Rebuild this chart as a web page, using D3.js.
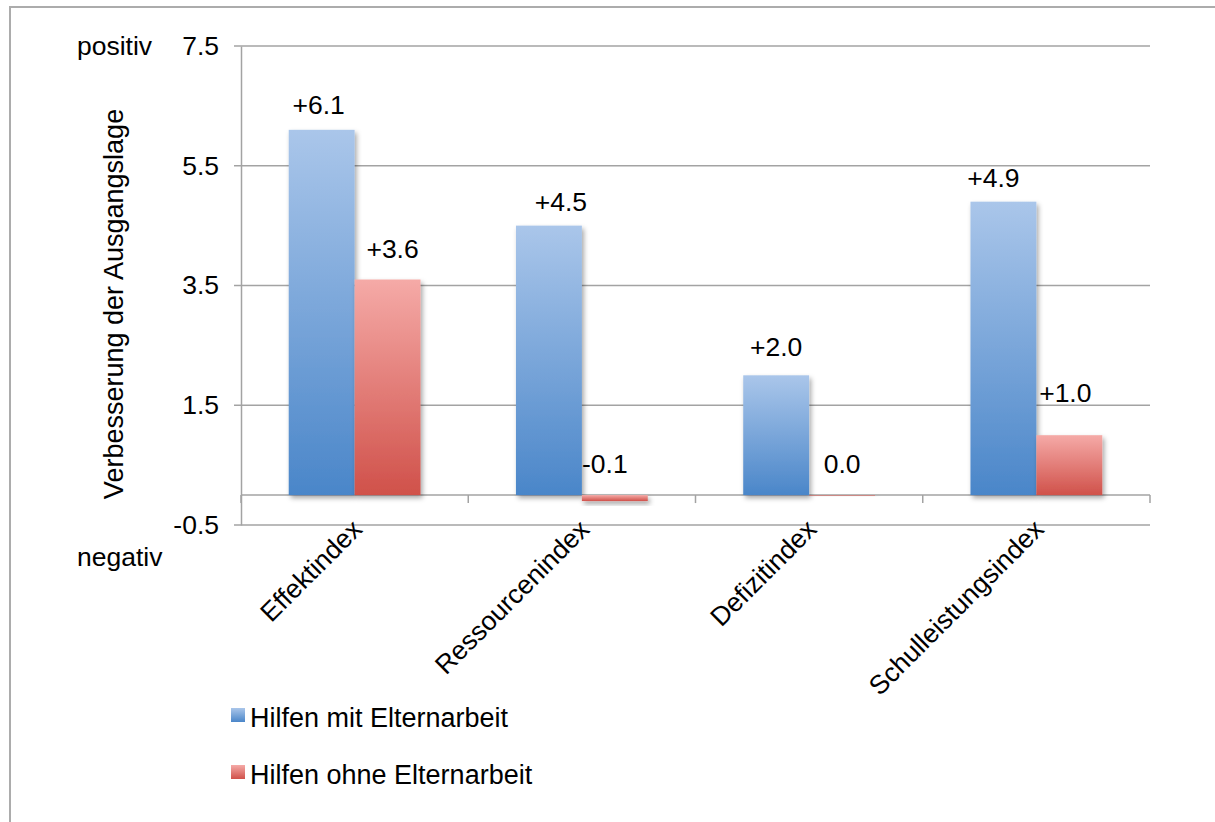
<!DOCTYPE html>
<html>
<head>
<meta charset="utf-8">
<script src="https://cdn.jsdelivr.net/npm/d3@7"></script>
<style>
  body { margin: 0; background: #fff; }
  svg text { font-family: "Liberation Sans", Arial, sans-serif; fill: #000; }
</style>
</head>
<body>
<div id="chart"></div>
<script>
'use strict';

// data
var categories = ["Effektindex", "Ressourcenindex", "Defizitindex", "Schulleistungsindex"];
var seriesNames = ["Hilfen mit Elternarbeit", "Hilfen ohne Elternarbeit"];
var mitEltern = [6.1, 4.5, 2.0, 4.9];
var ohneEltern = [3.6, -0.1, 0.0, 1.0];
var labelsMit = ["+6.1", "+4.5", "+2.0", "+4.9"];
var labelsOhne = ["+3.6", "-0.1", "0.0", "+1.0"];
var yTicks = [-0.5, 1.5, 3.5, 5.5, 7.5];

// hand placed data labels (pixel nudges), like the original sheet
var nudgeMit = [[-3, -16], [12, -15], [0, -19], [-10, -15]];
var nudgeOhne = [[5, -22], [-10, -22], [0, -22], [-4, -33]];

var W = 1215, H = 822;
var plotLeft = 241, plotRight = 1150, plotTop = 46, plotBottom = 525;
var fs = "26.5px";

var svg = d3.select("#chart").append("svg")
  .attr("width", W)
  .attr("height", H);

var defs = svg.append("defs");

function grad(id, c1, c2) {
  var g = defs.append("linearGradient")
    .attr("id", id)
    .attr("x1", 0).attr("y1", 0).attr("x2", 0).attr("y2", 1);
  g.append("stop").attr("offset", "0%").attr("stop-color", c1);
  g.append("stop").attr("offset", "100%").attr("stop-color", c2);
}
grad("gBlue", "#aac6ea", "#4a86c9");
grad("gRed", "#f5aaa7", "#d0514a");

var shadow = defs.append("filter")
  .attr("id", "shadow")
  .attr("x", "-20%").attr("y", "-20%")
  .attr("width", "150%").attr("height", "200%");
shadow.append("feDropShadow")
  .attr("dx", 2).attr("dy", 3)
  .attr("stdDeviation", 2.5)
  .attr("flood-color", "#000")
  .attr("flood-opacity", 0.35);

// outer frame
svg.append("rect")
  .attr("x", 10).attr("y", 7)
  .attr("width", 1300).attr("height", 900)
  .attr("fill", "none")
  .attr("stroke", "#acacac")
  .attr("stroke-width", 2);

var y = d3.scaleLinear().domain([-0.5, 7.5]).range([plotBottom, plotTop]);
var x = d3.scaleBand().domain(categories).range([plotLeft, plotRight]).padding(0);
var bw = x.bandwidth();
var xs = d3.scaleBand().domain(seriesNames)
  .range([bw * 0.21, bw * 0.79]).padding(0);

// gridlines
svg.append("g").selectAll("line")
  .data(yTicks)
  .enter().append("line")
  .attr("x1", plotLeft - 7).attr("x2", plotRight)
  .attr("y1", function(d) { return y(d); })
  .attr("y2", function(d) { return y(d); })
  .attr("stroke", "#a3a3a3")
  .attr("stroke-width", 1.5);

// y axis
var yAxis = d3.axisLeft(y)
  .tickValues(yTicks)
  .tickSize(0)
  .tickPadding(22)
  .tickFormat(function(d) { return d.toFixed(1); });

var gy = svg.append("g")
  .attr("transform", "translate(" + plotLeft + ",0)")
  .call(yAxis);
gy.select(".domain").attr("stroke", "#a3a3a3").attr("stroke-width", 1.5);
gy.selectAll("text")
  .style("font-size", fs)
  .style("font-family", "'Liberation Sans', Arial, sans-serif")
  .attr("fill", "#000");

// category axis at zero
svg.append("line")
  .attr("x1", plotLeft).attr("x2", plotRight)
  .attr("y1", y(0)).attr("y2", y(0))
  .attr("stroke", "#a3a3a3")
  .attr("stroke-width", 1.5);

var bounds = categories.map(function(c) { return x(c); }).concat([plotRight]);
svg.append("g").selectAll("line")
  .data(bounds)
  .enter().append("line")
  .attr("x1", function(d) { return d; })
  .attr("x2", function(d) { return d; })
  .attr("y1", y(0)).attr("y2", y(0) + 8)
  .attr("stroke", "#a3a3a3")
  .attr("stroke-width", 1.5);

// bars
var series = [
  { name: seriesNames[0], values: mitEltern, labels: labelsMit, nudge: nudgeMit, fill: "url(#gBlue)" },
  { name: seriesNames[1], values: ohneEltern, labels: labelsOhne, nudge: nudgeOhne, fill: "url(#gRed)" }
];

series.forEach(function(s) {
  svg.append("g").selectAll("rect")
    .data(s.values)
    .enter().append("rect")
    .attr("x", function(d, i) { return x(categories[i]) + xs(s.name); })
    .attr("width", xs.bandwidth())
    .attr("y", function(d) { return y(Math.max(d, 0)); })
    .attr("height", function(d) { return Math.max(Math.abs(y(d) - y(0)), 0.6); })
    .attr("fill", s.fill)
    .style("filter", "url(#shadow)");
});

series.forEach(function(s) {
  svg.append("g").selectAll("text")
    .data(s.values)
    .enter().append("text")
    .attr("x", function(d, i) {
      return x(categories[i]) + xs(s.name) + xs.bandwidth() / 2 + s.nudge[i][0];
    })
    .attr("y", function(d, i) { return y(Math.max(d, 0)) + s.nudge[i][1]; })
    .attr("text-anchor", "middle")
    .style("font-size", fs)
    .text(function(d, i) { return s.labels[i]; });
});

// category labels
svg.append("g").selectAll("text")
  .data(categories)
  .enter().append("text")
  .attr("transform", function(d) {
    return "translate(" + (x(d) + bw / 2 + 9) + "," + (plotBottom + 6) + ") rotate(-45)";
  })
  .attr("text-anchor", "end")
  .style("font-size", fs)
  .text(function(d) { return d; });

// axis title + positiv/negativ
svg.append("text")
  .attr("transform", "translate(123," + 304 + ") rotate(-90)")
  .attr("text-anchor", "middle")
  .style("font-size", "27px")
  .text("Verbesserung der Ausgangslage");

svg.append("text")
  .attr("x", 77).attr("y", y(7.5))
  .attr("dy", "0.35em")
  .style("font-size", fs)
  .text("positiv");

svg.append("text")
  .attr("x", 77).attr("y", y(-0.5) + 32)
  .attr("dy", "0.35em")
  .style("font-size", fs)
  .text("negativ");

// legend
var legend = svg.append("g").selectAll("g")
  .data(series)
  .enter().append("g")
  .attr("transform", function(d, i) { return "translate(231," + (708 + i * 57) + ")"; });

legend.append("rect")
  .attr("width", 14).attr("height", 14)
  .attr("fill", function(d) { return d.fill; });

legend.append("text")
  .attr("x", 19).attr("y", 19)
  .style("font-size", "27px")
  .text(function(d) { return d.name; });
</script>
</body>
</html>
